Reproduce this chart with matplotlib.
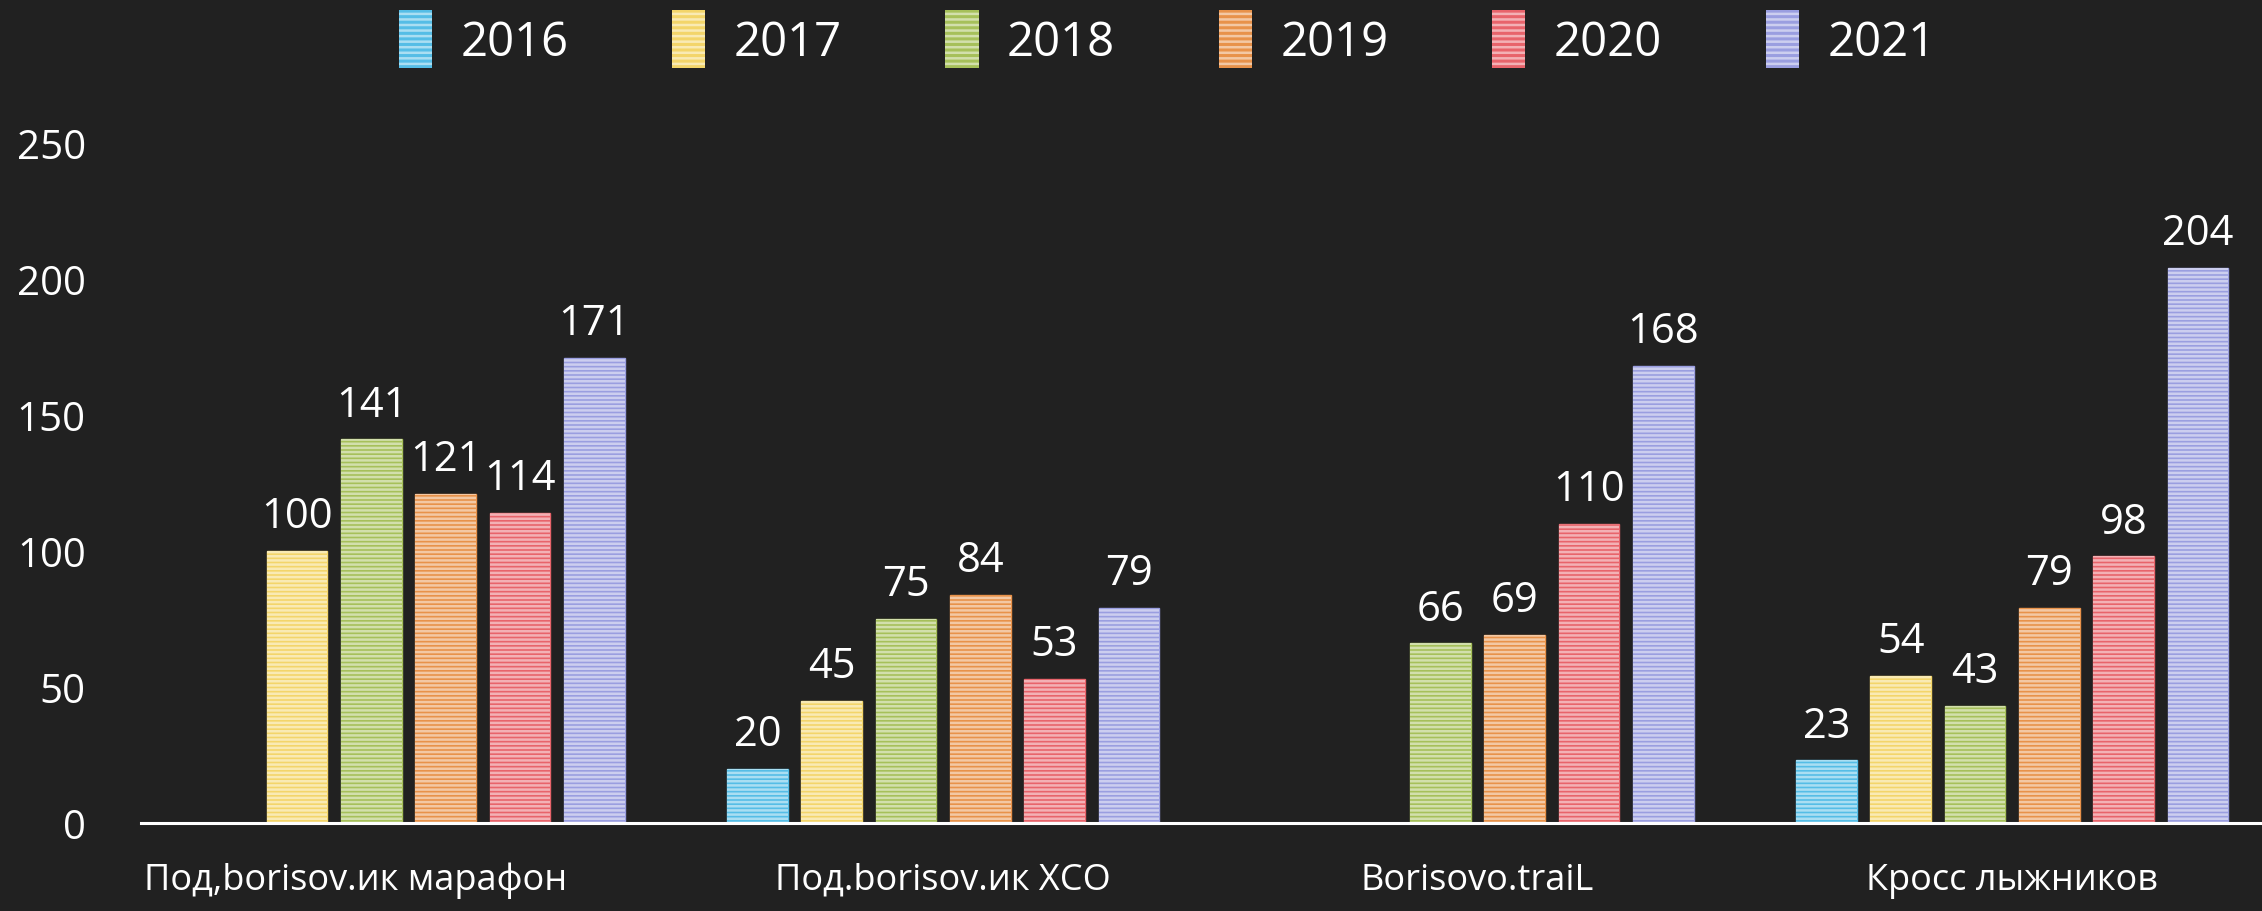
import numpy as np
import matplotlib
matplotlib.use('Agg')
import matplotlib.pyplot as plt
from matplotlib.patches import Patch
from matplotlib.transforms import ScaledTranslation

plt.rcParams['font.family'] = ['Open Sans', 'DejaVu Sans']
plt.rcParams['hatch.linewidth'] = 1.8

# данные
categories = ['Под,borisov.ик марафон', 'Под.borisov.ик XCO', 'Borisovo.traiL', 'Кросс лыжников']
years = ['2016', '2017', '2018', '2019', '2020', '2021']
v2016 = [np.nan, 20, np.nan, 23]
v2017 = [100, 45, np.nan, 54]
v2018 = [141, 75, 66, 43]
v2019 = [121, 84, 69, 79]
v2020 = [114, 53, 110, 98]
v2021 = [171, 79, 168, 204]
series = [v2016, v2017, v2018, v2019, v2020, v2021]
colors = ['#55bde6', '#f3d56a', '#a6c05a', '#e8924a', '#e8646b', '#9a9ee0']
yticks = [0, 50, 100, 150, 200, 250]

bg = '#212121'
fig = plt.figure(figsize=(22.62, 9.12), dpi=100, facecolor=bg)
ax = fig.add_axes([0.0625, 0.0965, 0.9452, 0.7456])
ax.set_facecolor(bg)

x = np.arange(len(categories))
pitch = 0.139
width = 0.1134
for i, (vals, c) in enumerate(zip(series, colors)):
    pos = x + (i - 2.5) * pitch
    vals = np.array(vals, dtype=float)
    ax.bar(pos, vals, width, color=c, edgecolor=c, linewidth=1)
    # светлые горизонтальные полосы
    ax.bar(pos, vals, width, color='none', edgecolor=(1, 1, 1, 0.5),
           hatch='----', linewidth=0)
    for px, v in zip(pos, vals):
        if np.isnan(v):
            continue
        ax.annotate(str(int(v)), (px, v), xytext=(0, 10), textcoords='offset points',
                    ha='center', va='bottom', color='white', fontsize=30,
                    annotation_clip=False)

ax.set_xlim(-0.5, 3.5)
ax.set_ylim(0, 250)
ax.set_yticks(yticks)
ax.set_xticks(x)
ax.set_xticklabels(categories)
ax.tick_params(axis='y', length=0, pad=40, labelsize=29, labelcolor='white')
ax.tick_params(axis='x', length=0, pad=28, labelsize=26, labelcolor='white')
# первая подпись немного сдвинута влево
lbl = ax.get_xticklabels()[0]
lbl.set_transform(lbl.get_transform() + ScaledTranslation(-0.53, 0, fig.dpi_scale_trans))
for s in ['top', 'right', 'left']:
    ax.spines[s].set_visible(False)
ax.spines['bottom'].set_color('white')
ax.spines['bottom'].set_linewidth(2.2)

handles = []
for c in colors:
    handles.append(Patch(facecolor=c, edgecolor=(1, 1, 1, 0.5), hatch='---', linewidth=0))
leg = fig.legend(handles, years, loc='upper center', bbox_to_anchor=(0.516, 1.034), ncol=6,
                 frameon=False, fontsize=34, labelcolor='white', handlelength=0.7,
                 handleheight=1.5, handletextpad=0.6, columnspacing=2.2)

plt.savefig('out.png', dpi=100, facecolor=bg)
